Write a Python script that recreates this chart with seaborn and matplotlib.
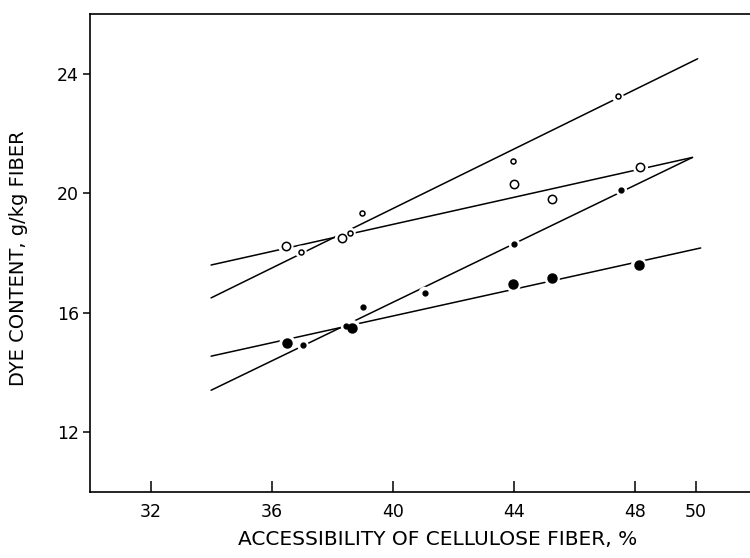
import numpy as np
import pandas as pd
import matplotlib
matplotlib.use("Agg")
import matplotlib.pyplot as plt
import seaborn as sns

# ---- data ----
# small open circles
so_x = [36.96, 38.58, 39.0, 43.98, 47.43]
so_y = [18.05, 18.66, 19.35, 21.07, 23.24]
so_line_x = [34.0, 50.07]
so_line_y = [16.5, 24.5]

# large open circles
lo_x = [36.47, 38.34, 44.02, 45.26, 48.18]
lo_y = [18.22, 18.49, 20.32, 19.81, 20.88]
lo_line_x = [34.0, 49.9]
lo_line_y = [17.6, 21.2]

# small filled circles
sf_x = [37.03, 38.47, 39.02, 41.05, 44.02, 47.55]
sf_y = [14.92, 15.56, 16.19, 16.68, 18.29, 20.10]
sf_line_x = [34.0, 49.9]
sf_line_y = [13.41, 21.2]

# large filled circles
lf_x = [36.52, 38.67, 43.98, 45.26, 48.13]
lf_y = [15.0, 15.5, 16.96, 17.17, 17.6]
lf_line_x = [34.0, 50.17]
lf_line_y = [14.55, 18.17]

x_ticks = [32, 36, 40, 44, 48, 50]
y_ticks = [12, 16, 20, 24]
x_label = "ACCESSIBILITY OF CELLULOSE FIBER, %"
y_label = "DYE CONTENT, g/kg FIBER"

sns.set_style("ticks")
plt.rcParams['font.family'] = ['DejaVu Sans']

fig = plt.figure(figsize=(7.5, 5.58), dpi=100)
ax = fig.add_axes([0.12, 0.118, 0.88, 0.857])

lines = [(so_line_x, so_line_y), (lo_line_x, lo_line_y),
         (sf_line_x, sf_line_y), (lf_line_x, lf_line_y)]
for lx, ly in lines:
    sns.lineplot(x=lx, y=ly, ax=ax, color="black", linewidth=1.1,
                 estimator=None, sort=False, zorder=2)

pts = [
    (so_x, so_y, 3.6, "white"),
    (lo_x, lo_y, 6.0, "white"),
    (sf_x, sf_y, 3.4, "black"),
    (lf_x, lf_y, 6.4, "black"),
]
for px, py, ms, fc in pts:
    df = pd.DataFrame({"x": px, "y": py})
    # white halo to create the small gap in lines around each marker
    sns.scatterplot(data=df, x="x", y="y", ax=ax, s=(ms + 5) ** 2,
                    color="white", edgecolor="none", zorder=3, legend=False)
    sns.scatterplot(data=df, x="x", y="y", ax=ax, s=ms ** 2,
                    facecolor=fc, edgecolor="black", linewidth=1.1,
                    zorder=4, legend=False)

ax.set_xlim(30, 51.8)
ax.set_ylim(10, 26)
ax.set_xticks(x_ticks)
ax.set_yticks(y_ticks)
ax.set_xticklabels([str(t) for t in x_ticks], fontsize=12.5, color="black")
ax.set_yticklabels([str(t) for t in y_ticks], fontsize=12.5, color="black")
ax.tick_params(axis="x", direction="in", length=8, width=1.1, pad=8,
               colors="black")
ax.tick_params(axis="y", direction="out", length=5, width=1.1, pad=3,
               colors="black")

for s in ["left", "top", "bottom"]:
    ax.spines[s].set_linewidth(1.2)
    ax.spines[s].set_color("black")
ax.spines["right"].set_visible(False)

ax.set_xlabel(x_label, fontsize=14.5, color="black", va="center")
ax.set_ylabel(y_label, fontsize=14, color="black", va="center")
ax.xaxis.set_label_coords(0.526, -0.10)
ax.yaxis.set_label_coords(-0.109, 0.49)

fig.savefig("out.png", dpi=100)
